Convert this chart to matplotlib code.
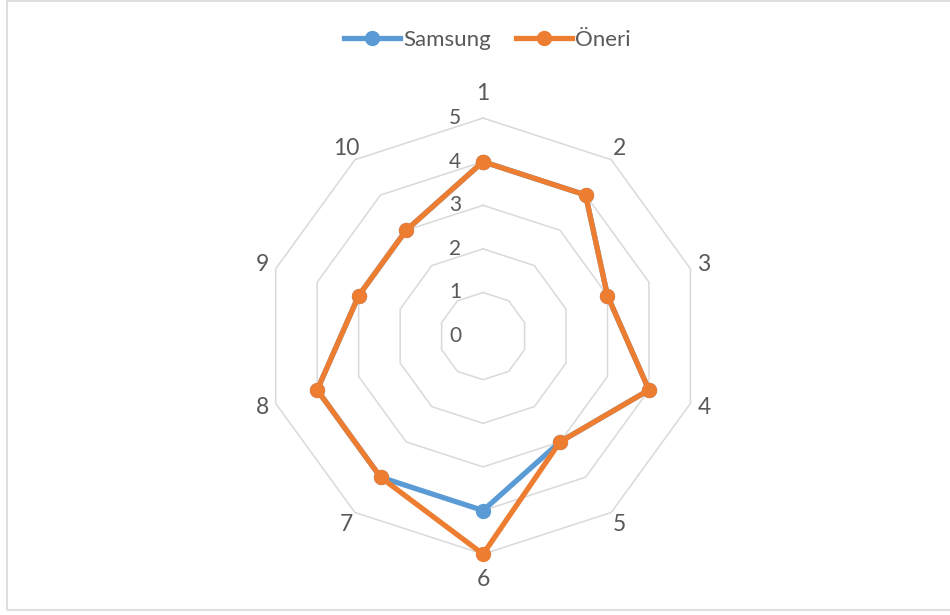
import matplotlib.pyplot as plt
import matplotlib.transforms as mtransforms
import numpy as np
from matplotlib.patches import Rectangle

categories = ['1', '2', '3', '4', '5', '6', '7', '8', '9', '10']
samsung = [4, 4, 3, 4, 3, 4, 4, 4, 3, 3]
oneri = [4, 4, 3, 4, 3, 5, 4, 4, 3, 3]
rings = [0, 1, 2, 3, 4, 5]

plt.rcParams['font.family'] = ['Lato', 'DejaVu Sans']
txt = '#595959'
grid_c = '#D9D9D9'

fig = plt.figure(figsize=(9.5, 6.15), dpi=100)
ax = fig.add_axes([0.279, 0.099, 0.459, 0.709], projection='polar')
ax.set_theta_zero_location('N')
ax.set_theta_direction(-1)
ax.set_ylim(0, 5)
ax.grid(False)
ax.spines['polar'].set_visible(False)
ax.set_xticks([])
ax.set_yticks([])
ax.patch.set_visible(False)

n = len(categories)
theta = np.arange(n) * 2 * np.pi / n
closed = np.append(theta, theta[0])

# decagon rings, value labels sit just left of the vertical axis
shift = ax.transData + mtransforms.ScaledTranslation(-28 / 100, 0, fig.dpi_scale_trans)
for r in rings:
    if r > 0:
        ax.plot(closed, [r] * (n + 1), color=grid_c, lw=1.1, zorder=1, clip_on=False)
    ax.text(0, r, str(r), transform=shift, color=txt, fontsize=15,
            ha='center', va='center', zorder=3)

# category labels around the outside
for t, lab in zip(theta, categories):
    c = np.cos(t)
    va = 'bottom' if c > 0.95 else ('top' if c < -0.95 else 'center')
    ax.text(t, 5.33, lab, color=txt, fontsize=16.5, ha='center', va=va)

ax.plot(closed, samsung + samsung[:1], color='#5B9BD5', lw=3.8, marker='o',
        ms=10, label='Samsung', zorder=4, solid_joinstyle='round', clip_on=False)
ax.plot(closed, oneri + oneri[:1], color='#ED7D31', lw=3.8, marker='o',
        ms=10, label='Öneri', zorder=5, solid_joinstyle='round', clip_on=False)

fig.legend(loc='center', bbox_to_anchor=(0.513, 0.935), ncol=2, frameon=False,
           fontsize=16, handlelength=2.55, handletextpad=0.14, columnspacing=1.1,
           labelcolor=txt)

fig.patches.append(Rectangle((6.5 / 950, 5 / 615), 1.0, 609.5 / 615,
                             transform=fig.transFigure, fill=False,
                             edgecolor=grid_c, lw=1.2))

fig.savefig('out.png', dpi=100)
